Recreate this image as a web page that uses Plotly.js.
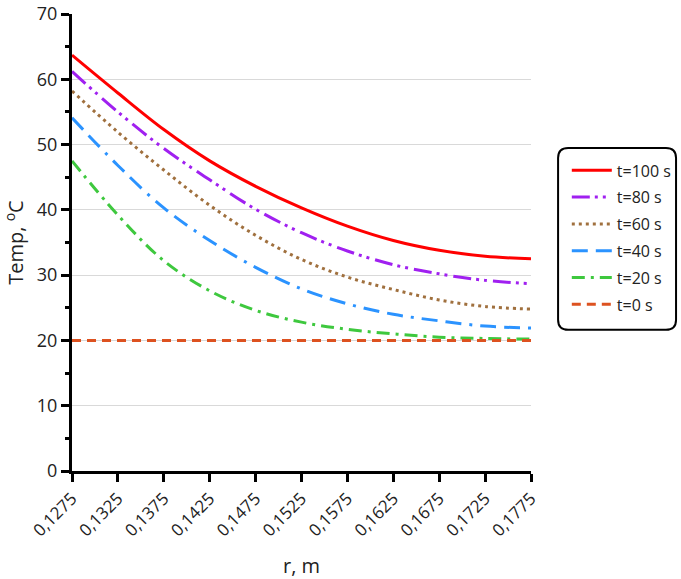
<!DOCTYPE html>
<html>
<head>
<meta charset="utf-8">
<script src="https://cdn.plot.ly/plotly-3.0.1.min.js"></script>
<style>
  html, body { margin: 0; padding: 0; background: #fff; }
  #chart { width: 681px; height: 579px; }
</style>
</head>
<body>
<div id="chart"></div>
<script>
  // radius values (m) and their comma-decimal tick labels
  var radius = [0.1275, 0.1325, 0.1375, 0.1425, 0.1475, 0.1525, 0.1575, 0.1625, 0.1675, 0.1725, 0.1775];
  var radiusLabels = ["0,1275", "0,1325", "0,1375", "0,1425", "0,1475", "0,1525", "0,1575", "0,1625", "0,1675", "0,1725", "0,1775"];

  // temperature profiles (degC)
  var temp100 = [63.7, 57.9, 52.3, 47.5, 43.6, 40.3, 37.5, 35.3, 33.8, 32.9, 32.5];
  var temp80 = [61.2, 55.0, 49.4, 44.6, 40.1, 36.5, 33.7, 31.6, 30.2, 29.2, 28.7];
  var temp60 = [58.2, 51.9, 46.1, 40.7, 36.1, 32.4, 29.7, 27.8, 26.2, 25.2, 24.8];
  var temp40 = [54.1, 46.8, 40.3, 35.3, 31.2, 27.9, 25.6, 24.0, 23.0, 22.2, 21.9];
  var temp20 = [47.5, 39.2, 32.2, 27.6, 24.6, 22.8, 21.7, 21.0, 20.5, 20.3, 20.2];
  var temp0 = [20, 20, 20, 20, 20, 20, 20, 20, 20, 20, 20];

  var FONT = "Open Sans, Lato, sans-serif";

  function series(name, y, color, dash, smooth) {
    return {
      type: "scatter",
      mode: "lines",
      name: name,
      legendgroup: name,
      x: radius,
      y: y,
      line: { color: color, width: 3, dash: dash, shape: smooth ? "spline" : "linear" },
      hoverinfo: "x+y+name"
    };
  }

  var traces = [
    series("t=100 s", temp100, "#ff0000", "solid", true),
    series("t=80 s", temp80, "#a020f0", "18px,5px,3px,5px,3px,6px", true),
    series("t=60 s", temp60, "#a0703e", "3px,4px", true),
    series("t=40 s", temp40, "#2b93ff", "16px,8px,16px,8px,3px,8px", true),
    series("t=20 s", temp20, "#3ec83e", "13px,6px,3px,6px", true),
    series("t=0 s", temp0, "#dd5220", "9px,6px", false)
  ];

  // rounded frame behind the legend, in paper units
  function roundedBox(x0, y0, x1, y1, rx, ry) {
    return "M" + (x0 + rx) + "," + y1 +
      " L" + (x1 - rx) + "," + y1 +
      " Q" + x1 + "," + y1 + " " + x1 + "," + (y1 - ry) +
      " L" + x1 + "," + (y0 + ry) +
      " Q" + x1 + "," + y0 + " " + (x1 - rx) + "," + y0 +
      " L" + (x0 + rx) + "," + y0 +
      " Q" + x0 + "," + y0 + " " + x0 + "," + (y0 + ry) +
      " L" + x0 + "," + (y1 - ry) +
      " Q" + x0 + "," + y1 + " " + (x0 + rx) + "," + y1 + " Z";
  }

  var layout = {
    width: 681,
    height: 579,
    margin: { l: 72, r: 150, t: 14, b: 108, autoexpand: false },
    paper_bgcolor: "#ffffff",
    plot_bgcolor: "#ffffff",
    font: { family: FONT, color: "#222222", size: 16 },
    showlegend: true,
    legend: {
      x: 1.078,
      y: 0.695,
      xanchor: "left",
      yanchor: "top",
      bgcolor: "rgba(0,0,0,0)",
      borderwidth: 0,
      traceorder: "grouped",
      tracegroupgap: 3,
      itemwidth: 40,
      font: { family: FONT, size: 16, color: "#222222" }
    },
    xaxis: {
      range: [0.1275, 0.1775],
      tickvals: radius,
      ticktext: radiusLabels,
      tickangle: -45,
      ticks: "outside",
      ticklen: 8,
      tickwidth: 2.5,
      tickcolor: "#000000",
      showline: true,
      linecolor: "#000000",
      linewidth: 3,
      showgrid: false,
      zeroline: false,
      tickfont: { family: FONT, size: 17, color: "#222222" },
      title: { text: "r, m", font: { family: FONT, size: 20, color: "#222222" }, standoff: 20 },
      automargin: false
    },
    yaxis: {
      range: [0, 70],
      dtick: 10,
      ticks: "outside",
      ticklen: 8,
      tickwidth: 2.5,
      tickcolor: "#000000",
      minor: { dtick: 5, ticks: "outside", ticklen: 4, tickwidth: 2.5, tickcolor: "#000000", showgrid: false },
      showline: true,
      linecolor: "#000000",
      linewidth: 3,
      showgrid: true,
      gridcolor: "#d9d9d9",
      gridwidth: 1,
      zeroline: false,
      tickfont: { family: FONT, size: 18, color: "#222222" },
      title: { text: "Temp, <sup>o</sup>C", font: { family: FONT, size: 20, color: "#222222" }, standoff: 12 },
      automargin: false
    },
    shapes: [
      {
        type: "path",
        xref: "paper",
        yref: "paper",
        path: roundedBox(1.059, 0.309, 1.316, 0.707, 0.022, 0.022),
        line: { color: "#000000", width: 2 },
        fillcolor: "rgba(0,0,0,0)",
        layer: "above"
      }
    ]
  };

  Plotly.newPlot("chart", traces, layout, { displayModeBar: false, responsive: false });
</script>
</body>
</html>
